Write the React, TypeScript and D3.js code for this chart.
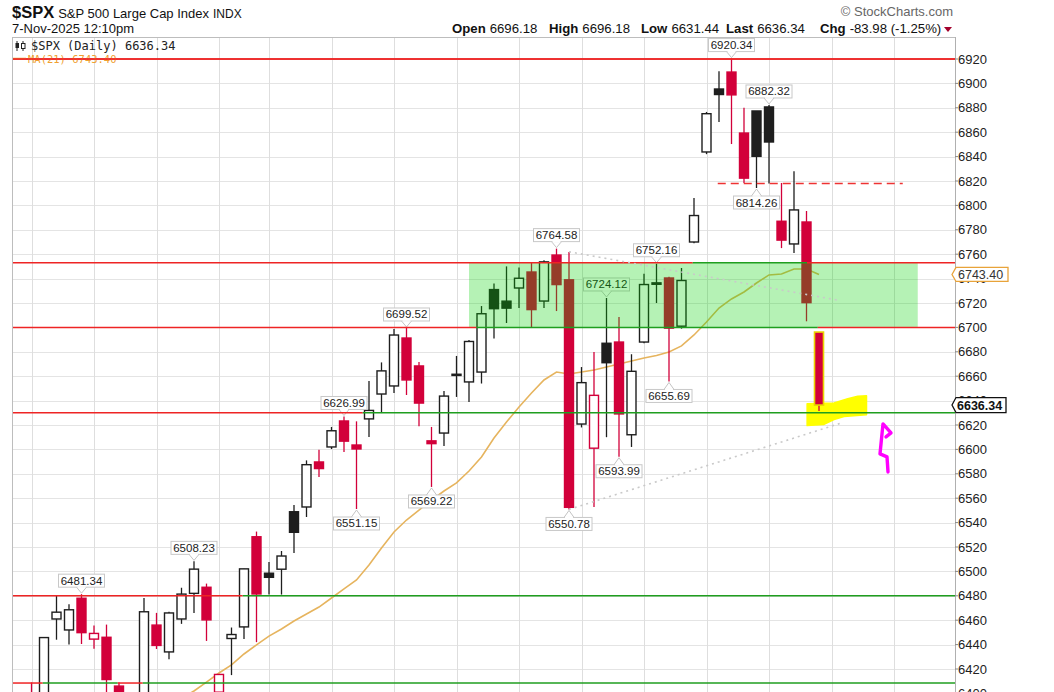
import React from 'react';
import * as d3 from 'd3';

const dates = [
  'Aug 8','Aug 11','Aug 12','Aug 13','Aug 14','Aug 15','Aug 18','Aug 19','Aug 20','Aug 21','Aug 22','Aug 25','Aug 26','Aug 27','Aug 28','Aug 29',
  'Sep 2','Sep 3','Sep 4','Sep 5','Sep 8','Sep 9','Sep 10','Sep 11','Sep 12','Sep 15','Sep 16','Sep 17','Sep 18','Sep 19','Sep 22','Sep 23','Sep 24','Sep 25','Sep 26','Sep 29','Sep 30',
  'Oct 1','Oct 2','Oct 3','Oct 6','Oct 7','Oct 8','Oct 9','Oct 10','Oct 13','Oct 14','Oct 15','Oct 16','Oct 17','Oct 20','Oct 21','Oct 22','Oct 23','Oct 24','Oct 27','Oct 28','Oct 29','Oct 30','Oct 31',
  'Nov 3','Nov 4','Nov 5','Nov 6','Nov 7'
];

const opens = [
  6358, 6389, 6398, 6461, 6452, 6478, 6444.5, 6446, 6406, 6380, 6370, 6456, 6434, 6461, 6482, 6487,
  6401, 6445, 6454.5, 6528.4, 6498.5, 6501.8, 6548.9, 6552.8, 6589.7, 6602, 6623.3, 6603.6, 6625, 6645.4, 6652, 6691.3, 6668.4, 6607, 6613.4, 6661.6, 6655.3,
  6663.4, 6731, 6721.5, 6732.3, 6745.4, 6721.6, 6759.3, 6739, 6620.8, 6601, 6687, 6688, 6612, 6688, 6736.5, 6740.5, 6701, 6770, 6843.8, 6895.4, 6909.3, 6859.3, 6877.4,
  6880.7, 6787, 6768.4, 6786.4, 6696.18
];
const highs = [
  6395, 6409, 6446, 6480.3, 6473, 6481.34, 6455.6, 6456.4, 6409, 6393, 6478.2, 6466, 6467, 6486.6, 6508.23, 6490,
  6416, 6454, 6502.1, 6532.65, 6507.7, 6516.7, 6554.4, 6591, 6599.8, 6618.4, 6626.99, 6623, 6656.1, 6671.3, 6698.7, 6699.52, 6671.6, 6618.4, 6647.9, 6676.6, 6689.7,
  6717.5, 6736, 6750, 6749, 6752.8, 6755, 6764.58, 6761.8, 6667.5, 6679.8, 6724.12, 6708.5, 6678, 6744, 6752.16, 6741.5, 6748.7, 6806, 6876.6, 6910, 6920.34, 6880, 6877.4,
  6882.32, 6818.4, 6828, 6795.4, 6696.18
];
const lows = [
  6351, 6364, 6385, 6444, 6440, 6440.5, 6436.6, 6400, 6343.85, 6360, 6368, 6436.4, 6428, 6457, 6466, 6443,
  6360, 6415, 6444.6, 6442, 6481, 6481, 6515, 6544.6, 6577.4, 6600.3, 6597.9, 6551.15, 6610.2, 6629.8, 6646.2, 6644.6, 6619, 6569.22, 6602.8, 6643, 6638.9,
  6654, 6691, 6703.6, 6716, 6700, 6716, 6713.4, 6550.78, 6618, 6552.8, 6610, 6593.99, 6602, 6687, 6720, 6655.69, 6699, 6769, 6842, 6868.4, 6850.3, 6818.4, 6814.26,
  6818, 6765, 6761, 6705, 6631.44
];
const closes = [
  6389.45, 6373.45, 6445.76, 6466.58, 6468.54, 6449.8, 6449.15, 6411.37, 6395.78, 6370.17, 6466.91, 6439.32, 6465.94, 6481.4, 6501.86, 6460.26,
  6415.54, 6448.26, 6502.08, 6481.5, 6495.15, 6512.61, 6532.04, 6587.47, 6584.29, 6615.28, 6606.76, 6600.35, 6631.96, 6664.36, 6693.75, 6656.92, 6637.97, 6604.72, 6643.7, 6661.21, 6688.46,
  6711.2, 6715.35, 6715.79, 6740.28, 6714.59, 6753.72, 6735.11, 6552.51, 6654.72, 6644.31, 6671.06, 6629.07, 6664.01, 6735.13, 6735.35, 6699.4, 6738.44, 6791.69, 6875.16, 6890.89, 6890.59, 6822.34, 6840.2,
  6851.97, 6771.55, 6796.29, 6720.32, 6636.34
];
const closeBeforeFirst = 6340.2;

const ma21: (number | null)[] = [
  null, null, null, null, null, null, null, null, null, null, null, null, null,
  6396.0, 6402.0, 6409.3,
  6416.7, 6423.3, 6432.3, 6439.7, 6447.0, 6452.8, 6459.3, 6465.1, 6470.8, 6478.2, 6485.6, 6493.0, 6505.2, 6519.2, 6532.3, 6542.1, 6550.3, 6558.5, 6565.9, 6572.5, 6582.3,
  6593.8, 6609.3, 6622.5, 6634.8, 6646.2, 6656.9, 6663.4, 6661.8, 6663.4, 6665.1, 6667.5, 6670.0, 6672.5, 6674.9, 6677.0, 6679.8, 6684.8, 6693.8, 6704.4, 6715.9, 6723.3, 6729.0, 6736.4,
  6743.0, 6743.8, 6747.9, 6747.9, 6743.4
];

const yTicks = [6400, 6420, 6440, 6460, 6480, 6500, 6520, 6540, 6560, 6580, 6600, 6620, 6640, 6660, 6680, 6700, 6720, 6740, 6760, 6780, 6800, 6820, 6840, 6860, 6880, 6900, 6920];
const weekStartIdx = [1, 6, 11, 16, 20, 25, 30, 35, 40, 45, 50, 55, 60, 65, 70];
const highLabelIdx = [5, 14, 26, 31, 43, 47, 51, 57, 60];
const lowLabelIdx = [27, 33, 44, 48, 52, 59];

const RED = '#ee2424';
const GREEN = '#1f9e1f';
// horizontal levels: price, [fromIdx, toIdx, colour] (null = chart edge)
const levelPrices = [6920, 6753, 6700, 6630, 6480, 6408.5];
const levelSegments: [number | null, number | null, string][][] = [
  [[null, null, RED]],
  [[null, 53.9, RED], [53.9, 63.04, GREEN], [63.04, null, RED]],
  [[null, 36.6, RED], [36.6, 63.9, GREEN], [63.9, null, RED]],
  [[null, 27.5, RED], [27.5, null, GREEN]],
  [[null, 17.9, RED], [17.9, null, GREEN]],
  [[null, 1.9, RED], [1.9, 7.9, GREEN], [7.9, 9.9, RED], [9.9, null, GREEN]]
];
const dashedLevel = { price: 6818, from: 55.9, to: 70.7 };
const zoneBox = { from: 36, to: 71.9, lo: 6700, hi: 6753 };
const trendLines = [
  { i0: 44, v0: 6762, i1: 65.7, v1: 6722 },
  { i0: 44, v0: 6550.78, i1: 65.9, v1: 6622 }
];
const highlighterIdx = [63.05, 65.2, 66.3, 67.1, 67.8, 67.8, 66.0, 65.2, 64.4, 63.05];
const highlighterPrice = [6637.5, 6638.0, 6641.5, 6643.5, 6644.0, 6628.5, 6627.0, 6624.5, 6620.5, 6619.5];
const arrowAnchor = { i: 69.2, v: 6601.2 };

const SANS = '"Liberation Sans", Arial, sans-serif';
const MONO = '"DejaVu Sans Mono", monospace';
const CANDLE_RED = '#d2003a';
const CANDLE_BLACK = '#1e1e1e';

export default function App() {
  const W = 1054, H = 692;
  const left = 12, right = 955, top = 37, bottom = 692;
  const x = d3.scaleLinear().domain([0, 64]).range([19, 819]);
  const y = d3.scaleLinear().domain([6420, 6920]).range([669, 59]);
  const ex = (i: number | null, isStart: boolean) => (i === null ? (isStart ? left : right) : x(i));

  const maLine = d3.line<number | null>()
    .defined(d => d !== null)
    .x((_, i) => x(i))
    .y(d => y(d as number));

  const bodyW = 9;
  const candles = closes.map((c, i) => {
    const o = opens[i];
    const prev = i === 0 ? closeBeforeFirst : closes[i - 1];
    const color = c >= prev ? CANDLE_BLACK : CANDLE_RED;
    const hollow = c >= o;
    const yt = y(Math.max(o, c));
    const yb = y(Math.min(o, c));
    const cx = x(i);
    return (
      <g key={dates[i]}>
        <line x1={cx} x2={cx} y1={y(highs[i])} y2={y(lows[i])} stroke={color} strokeWidth={1.3} />
        <rect x={cx - bodyW / 2} y={yt} width={bodyW} height={Math.max(1.2, yb - yt)}
          fill={hollow ? '#fff' : color} stroke={i === 64 ? '#e8d400' : color} strokeWidth={i === 64 ? 1.6 : 1.4} />
      </g>
    );
  });

  const labelBox = (i: number, above: boolean) => {
    const v = above ? highs[i] : lows[i];
    const cx = x(i);
    const py = y(v);
    const bw = 46, bh = 13;
    const by = above ? py - 7 - bh : py + 8;
    const caret = above
      ? `M${cx - 5},${by + bh} L${cx},${py - 1} L${cx + 5},${by + bh}`
      : `M${cx - 5},${by} L${cx},${py + 1} L${cx + 5},${by}`;
    return (
      <g key={'lb' + i}>
        <path d={caret} fill="#fff" stroke="#c4c4c4" strokeWidth={1} />
        <rect x={cx - bw / 2} y={by} width={bw} height={bh} fill="#fff" stroke="#c8c8c8" strokeWidth={1} />
        <line x1={cx - 4} x2={cx + 4} y1={above ? by + bh : by} y2={above ? by + bh : by} stroke="#fff" strokeWidth={1.4} />
        <text x={cx} y={by + 10.5} textAnchor="middle" fontFamily={SANS} fontSize={11.5} fill="#222">{v.toFixed(2)}</text>
      </g>
    );
  };

  const hlPts = highlighterIdx.map((ii, k) => `${x(ii)},${y(highlighterPrice[k])}`).join(' ');
  const ax = x(arrowAnchor.i), ay = y(arrowAnchor.v);
  const arrowPath = `M${ax + 4},${ay + 24} L${ax + 3},${ay + 9} L${ax - 4},${ay + 6} L${ax - 1},${ay - 24} L${ax + 7},${ay - 15} L${ax + 2},${ay - 11}`;

  const lastMA = ma21[64] as number;
  const lastClose = closes[64];

  return (
    <svg width={W} height={H} style={{ position: 'absolute', left: 0, top: 0, display: 'block', background: '#fff' }}>
      <defs>
        <clipPath id="plot"><rect x={left} y={top} width={right - left} height={bottom - top} /></clipPath>
      </defs>

      {/* header */}
      <text x={12} y={18} fontFamily={SANS} fill="#111">
        <tspan fontWeight="bold" fontSize={16.5}>$SPX</tspan>
        <tspan fontSize={13} dx={4}>S&amp;P 500 Large Cap Index</tspan>
        <tspan fontSize={12} dx={4}>INDX</tspan>
      </text>
      <text x={12} y={33} fontFamily={SANS} fontSize={13} fill="#111">7-Nov-2025 12:10pm</text>
      <text x={953} y={16} textAnchor="end" fontFamily={SANS} fontSize={13} fill="#666">© StockCharts.com</text>
      <g fontFamily={SANS} fontSize={13.2} fill="#111">
        <text x={452} y={33}><tspan fontWeight="bold">Open</tspan><tspan dx={4}>6696.18</tspan></text>
        <text x={549} y={33}><tspan fontWeight="bold">High</tspan><tspan dx={4}>6696.18</tspan></text>
        <text x={641} y={33}><tspan fontWeight="bold">Low</tspan><tspan dx={4}>6631.44</tspan></text>
        <text x={726} y={33}><tspan fontWeight="bold">Last</tspan><tspan dx={4}>6636.34</tspan></text>
        <text x={820} y={33}><tspan fontWeight="bold">Chg</tspan><tspan dx={4}>-83.98 (-1.25%)</tspan></text>
      </g>
      <path d="M944,27 L952,27 L948,32 Z" fill="#a3002c" />

      {/* grid */}
      <g clipPath="url(#plot)">
        {yTicks.map(t => (
          <line key={'g' + t} x1={left} x2={right} y1={Math.round(y(t)) + 0.5} y2={Math.round(y(t)) + 0.5} stroke="#e4e4e4" strokeWidth={1} />
        ))}
        {weekStartIdx.map(i => (
          <line key={'v' + i} x1={Math.round(x(i)) + 0.5} x2={Math.round(x(i)) + 0.5} y1={top} y2={bottom} stroke="#dedede" strokeWidth={1} />
        ))}

        {/* highlighter */}
        <polygon points={hlPts} fill="#ffff00" stroke="#ffff00" strokeWidth={1.5} strokeLinejoin="round" />

        {/* moving average */}
        <path d={maLine(ma21) || ''} fill="none" stroke="#e6b45e" strokeWidth={1.6} />

        {candles}

        {highLabelIdx.map(i => labelBox(i, true))}
        {lowLabelIdx.map(i => labelBox(i, false))}

        {/* green zone */}
        <rect x={x(zoneBox.from)} y={y(zoneBox.hi)} width={x(zoneBox.to) - x(zoneBox.from)} height={y(zoneBox.lo) - y(zoneBox.hi)}
          fill="#00d200" fillOpacity={0.29} />

        {/* horizontal levels */}
        {levelPrices.map((p, k) => levelSegments[k].map((s, j) => (
          <line key={'lv' + k + '_' + j} x1={ex(s[0], true)} x2={ex(s[1], false)} y1={y(p)} y2={y(p)} stroke={s[2]} strokeWidth={1.5} />
        )))}
        <line x1={x(dashedLevel.from)} x2={x(dashedLevel.to)} y1={y(dashedLevel.price)} y2={y(dashedLevel.price)}
          stroke="#ee3333" strokeWidth={1.6} strokeDasharray="8,5" />

        {trendLines.map((t, k) => (
          <line key={'tl' + k} x1={x(t.i0)} y1={y(t.v0)} x2={x(t.i1)} y2={y(t.v1)} stroke="#c9c9c9" strokeWidth={1.6} strokeDasharray="2,4" />
        ))}

        {/* hand drawn arrow */}
        <path d={arrowPath} fill="none" stroke="#ff00ff" strokeWidth={3.4} strokeLinejoin="round" strokeLinecap="round" />

        {/* legend */}
        <g>
          <line x1={17} x2={17} y1={41} y2={51} stroke="#222" strokeWidth={1} />
          <rect x={15.5} y={43} width={3.5} height={5} fill="#222" />
          <line x1={23} x2={23} y1={41} y2={51} stroke="#222" strokeWidth={1} />
          <rect x={21.5} y={43.5} width={3.5} height={5} fill="#fff" stroke="#222" strokeWidth={1} />
          <text x={31} y={50} fontFamily={MONO} fontSize={12} fill="#222">$SPX (Daily) 6636.34</text>
          <line x1={13} x2={26} y1={58.5} y2={58.5} stroke="#f0a030" strokeWidth={1.5} />
          <text x={28} y={63} fontFamily={MONO} fontSize={10.5} fill="#f0a030">MA(21) {lastMA.toFixed(2)}</text>
        </g>
        {/* redraw top level over legend text */}
        <line x1={left} x2={right} y1={y(levelPrices[0])} y2={y(levelPrices[0])} stroke={RED} strokeWidth={1.5} />
      </g>

      {/* frame */}
      <line x1={left + 0.5} x2={left + 0.5} y1={top} y2={bottom} stroke="#bdbdbd" />
      <line x1={left} x2={right} y1={top + 0.5} y2={top + 0.5} stroke="#bdbdbd" />
      <line x1={right + 0.5} x2={right + 0.5} y1={top} y2={bottom} stroke="#b0b0b0" />

      {/* y axis */}
      {yTicks.map(t => (
        <g key={'t' + t}>
          <line x1={right} x2={right + 3} y1={y(t)} y2={y(t)} stroke="#888" />
          <text x={958} y={y(t) + 4.5} fontFamily={SANS} fontSize={13} fill="#222">{t}</text>
        </g>
      ))}
      <path d={`M${right - 3},${y(lastMA)} L${right + 1},${y(lastMA) - 7} L1008,${y(lastMA) - 7} L1008,${y(lastMA) + 7} L${right + 1},${y(lastMA) + 7} Z`}
        fill="#fff" stroke="#e8a33a" strokeWidth={1.3} />
      <text x={958} y={y(lastMA) + 4.5} fontFamily={SANS} fontSize={12.5} fill="#333">{lastMA.toFixed(2)}</text>
      <path d={`M${right - 3},${y(lastClose)} L${right + 1},${y(lastClose) - 7.5} L1006,${y(lastClose) - 7.5} L1006,${y(lastClose) + 7.5} L${right + 1},${y(lastClose) + 7.5} Z`}
        fill="#fff" stroke="#111" strokeWidth={1.3} />
      <text x={957} y={y(lastClose) + 4.5} fontFamily={SANS} fontSize={12.5} fontWeight="bold" fill="#111">{lastClose.toFixed(2)}</text>
    </svg>
  );
}
